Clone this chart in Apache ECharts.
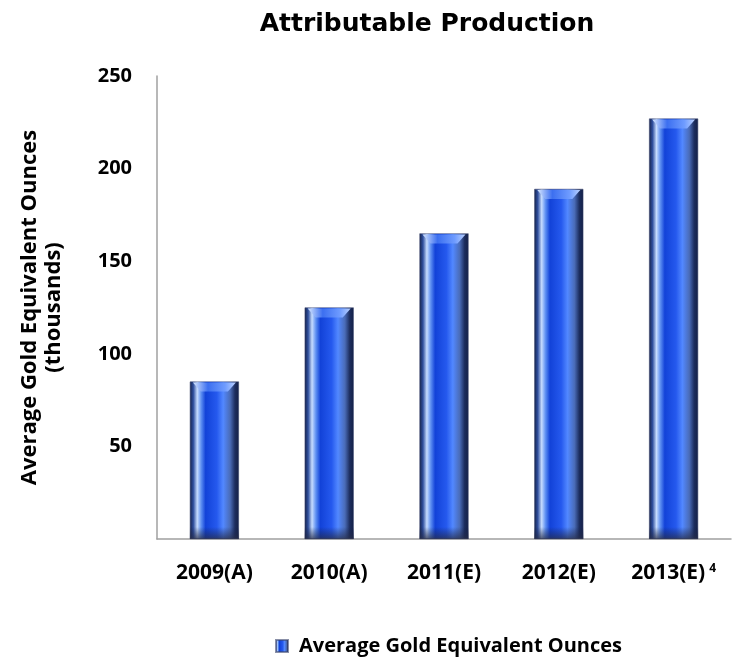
<!DOCTYPE html>
<html>
<head>
<meta charset="utf-8">
<script src="https://cdn.jsdelivr.net/npm/echarts@6/dist/echarts.min.js"></script>
<style>
  html, body { margin: 0; padding: 0; background: #fff; }
  #chart { width: 732px; height: 662px; }
</style>
</head>
<body>
<div id="chart"></div>
<script>
// data (thousands of oz)
var years = ["2009(A)", "2010(A)", "2011(E)", "2012(E)", "2013(E)"];
var footnotes = ["", "", "", "", "4"];
var ounces = [85, 125, 165, 189, 227];
var yTicks = { min: 0, max: 250, step: 50 };
var seriesName = "Average Gold Equivalent Ounces";

var BAR_W = 49;
var FONT = "'Open Sans', 'Noto Sans', sans-serif";

var chart = echarts.init(document.getElementById("chart"));

// glassy tube look
var tubeFill = new echarts.graphic.LinearGradient(0, 0, 1, 0, [
  { offset: 0, color: "#16224a" },
  { offset: 0.07, color: "#2f4f9e" },
  { offset: 0.15, color: "#c6dcff" },
  { offset: 0.23, color: "#5d8ff2" },
  { offset: 0.32, color: "#1242d8" },
  { offset: 0.55, color: "#2559ee" },
  { offset: 0.68, color: "#5288ff" },
  { offset: 0.82, color: "#4a6cb8" },
  { offset: 0.92, color: "#1c2d5e" },
  { offset: 1, color: "#142046" }
]);

function renderTube(params, api) {
  var top = api.coord([api.value(0), api.value(1)]);
  var base = api.coord([api.value(0), 0]);
  var x = top[0], y = top[1], w = BAR_W / 2;
  return {
    type: "group",
    children: [
      {
        type: "polygon",
        shape: { points: [[x - w + 3, y + 1], [x + w - 3, y + 1], [x + w - 11, y + 10], [x - w + 11, y + 10]] },
        style: {
          fill: new echarts.graphic.LinearGradient(0, 0, 1, 0, [
            { offset: 0, color: "#d8e8ff" },
            { offset: 0.35, color: "#3c6ff0" },
            { offset: 0.75, color: "#6f9cff" },
            { offset: 1, color: "#b9d0ff" }
          ])
        }
      },
      {
        type: "rect",
        shape: { x: x - w, y: base[1] - 12, width: BAR_W, height: 12 },
        style: {
          fill: new echarts.graphic.LinearGradient(0, 0, 0, 1, [
            { offset: 0, color: "rgba(20,30,70,0)" },
            { offset: 1, color: "rgba(40,45,70,0.75)" }
          ])
        }
      }
    ]
  };
}

var option = {
  backgroundColor: "#fff",
  title: {
    text: "Attributable Production",
    left: 427,
    top: 12,
    padding: 0,
    textAlign: "center",
    textStyle: {
      fontFamily: "'DejaVu Sans', sans-serif",
      fontWeight: "bold",
      fontSize: 25,
      color: "#000"
    }
  },
  legend: {
    data: [{ name: seriesName, icon: "rect" }],
    left: 275,
    top: 636,
    padding: 0,
    itemWidth: 12,
    itemHeight: 12,
    textStyle: {
      fontFamily: FONT,
      fontWeight: "bold",
      fontSize: 20,
      color: "#000",
      padding: [0, 0, 0, 6]
    }
  },
  grid: {
    left: 157,
    right: 1,
    top: 76,
    bottom: 123,
    containLabel: false
  },
  xAxis: {
    type: "category",
    data: years,
    axisLine: { lineStyle: { color: "#a0a0a0", width: 1.5 } },
    axisTick: { show: false },
    axisLabel: {
      interval: 0,
      hideOverlap: false,
      margin: 24,
      fontFamily: FONT,
      fontWeight: "bold",
      fontSize: 21,
      color: "#000",
      formatter: function (v, i) {
        return footnotes[i] ? "{a|" + v + "}{sup|" + footnotes[i] + "}" : "{a|" + v + "}";
      },
      rich: {
        a: { fontFamily: FONT, fontWeight: "bold", fontSize: 21, color: "#000" },
        sup: { fontFamily: FONT, fontWeight: "bold", fontSize: 12, color: "#000", verticalAlign: "top", padding: [0, 0, 0, 4] }
      }
    }
  },
  yAxis: {
    type: "value",
    min: yTicks.min,
    max: yTicks.max,
    interval: yTicks.step,
    name: "Average Gold Equivalent Ounces\n(thousands)",
    nameLocation: "middle",
    nameGap: 91,
    nameTextStyle: {
      fontFamily: FONT,
      fontWeight: "bold",
      fontSize: 22,
      lineHeight: 24,
      color: "#000"
    },
    axisLine: { show: true, lineStyle: { color: "#a0a0a0", width: 1.5 } },
    axisTick: { show: false },
    splitLine: { show: false },
    axisLabel: {
      margin: 25,
      fontFamily: FONT,
      fontWeight: "bold",
      fontSize: 20,
      color: "#000",
      formatter: function (v) { return v === 0 ? "" : v; }
    }
  },
  series: [
    {
      name: seriesName,
      type: "bar",
      data: ounces,
      barWidth: BAR_W,
      itemStyle: { color: tubeFill, borderColor: "rgba(60,70,110,0.6)", borderWidth: 0.5 },
      z: 2
    },
    {
      name: "cap",
      type: "custom",
      data: ounces.map(function (v, i) { return [i, v]; }),
      renderItem: renderTube,
      silent: true,
      z: 3
    }
  ]
};

chart.setOption(option);
window.addEventListener("resize", function () { chart && chart.resize(); });
</script>
</body>
</html>
